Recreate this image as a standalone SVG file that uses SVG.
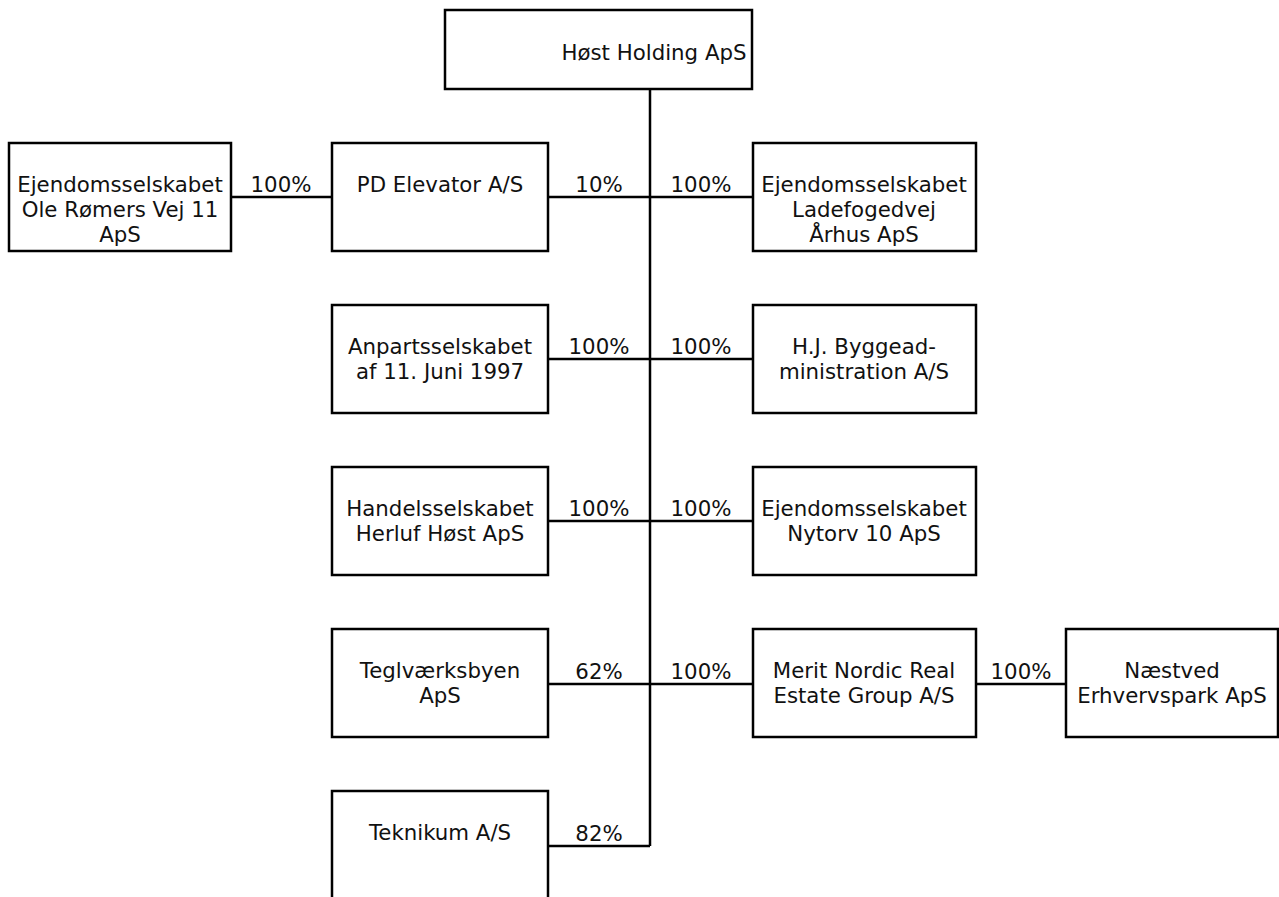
<svg xmlns="http://www.w3.org/2000/svg" width="1279" height="897" viewBox="0 0 1279 897">
<style>
.box{fill:#fff;stroke:#000;stroke-width:2.5}
.ln{stroke:#000;stroke-width:2.5;fill:none}
text{font-family:"DejaVu Sans",Verdana,sans-serif;font-size:21.3px;fill:#111;text-anchor:middle}
</style>
<rect width="1279" height="897" fill="#fff"/>
<g id="connectors">
<line class="ln" x1="650" y1="89" x2="650" y2="846"/>
<line class="ln" x1="231" y1="197" x2="332" y2="197"/>
<line class="ln" x1="548" y1="197" x2="753" y2="197"/>
<line class="ln" x1="548" y1="359" x2="753" y2="359"/>
<line class="ln" x1="548" y1="521" x2="753" y2="521"/>
<line class="ln" x1="548" y1="684" x2="753" y2="684"/>
<line class="ln" x1="976" y1="684" x2="1066" y2="684"/>
<line class="ln" x1="548" y1="846" x2="650" y2="846"/>
<text x="281" y="192">100%</text>
<text x="599" y="192">10%</text>
<text x="701" y="192">100%</text>
<text x="599" y="354">100%</text>
<text x="701" y="354">100%</text>
<text x="599" y="516">100%</text>
<text x="701" y="516">100%</text>
<text x="599" y="679">62%</text>
<text x="701" y="679">100%</text>
<text x="1021" y="679">100%</text>
<text x="599" y="841">82%</text>
</g>
<g id="n-host"><rect class="box" x="445" y="10" width="307" height="79"/><text x="654" y="60">Høst Holding ApS</text></g>
<g id="n-ole"><rect class="box" x="9" y="143" width="222" height="108"/><text x="120" y="192">Ejendomsselskabet</text><text x="120" y="217">Ole Rømers Vej 11</text><text x="120" y="242">ApS</text></g>
<g id="n-pd"><rect class="box" x="332" y="143" width="216" height="108"/><text x="440" y="192">PD Elevator A/S</text></g>
<g id="n-lade"><rect class="box" x="753" y="143" width="223" height="108"/><text x="864" y="192">Ejendomsselskabet</text><text x="864" y="217">Ladefogedvej</text><text x="864" y="242">Århus ApS</text></g>
<g id="n-anp"><rect class="box" x="332" y="305" width="216" height="108"/><text x="440" y="354">Anpartsselskabet</text><text x="440" y="379">af 11. Juni 1997</text></g>
<g id="n-hj"><rect class="box" x="753" y="305" width="223" height="108"/><text x="864" y="354">H.J. Byggead-</text><text x="864" y="379">ministration A/S</text></g>
<g id="n-handel"><rect class="box" x="332" y="467" width="216" height="108"/><text x="440" y="516">Handelsselskabet</text><text x="440" y="541">Herluf Høst ApS</text></g>
<g id="n-nytorv"><rect class="box" x="753" y="467" width="223" height="108"/><text x="864" y="516">Ejendomsselskabet</text><text x="864" y="541">Nytorv 10 ApS</text></g>
<g id="n-tegl"><rect class="box" x="332" y="629" width="216" height="108"/><text x="440" y="678">Teglværksbyen</text><text x="440" y="703">ApS</text></g>
<g id="n-merit"><rect class="box" x="753" y="629" width="223" height="108"/><text x="864" y="678">Merit Nordic Real</text><text x="864" y="703">Estate Group A/S</text></g>
<g id="n-naestved"><rect class="box" x="1066" y="629" width="212" height="108"/><text x="1172" y="678">Næstved</text><text x="1172" y="703">Erhvervspark ApS</text></g>
<g id="n-teknikum"><rect class="box" x="332" y="791" width="216" height="120"/><text x="440" y="840">Teknikum A/S</text></g>
</svg>
